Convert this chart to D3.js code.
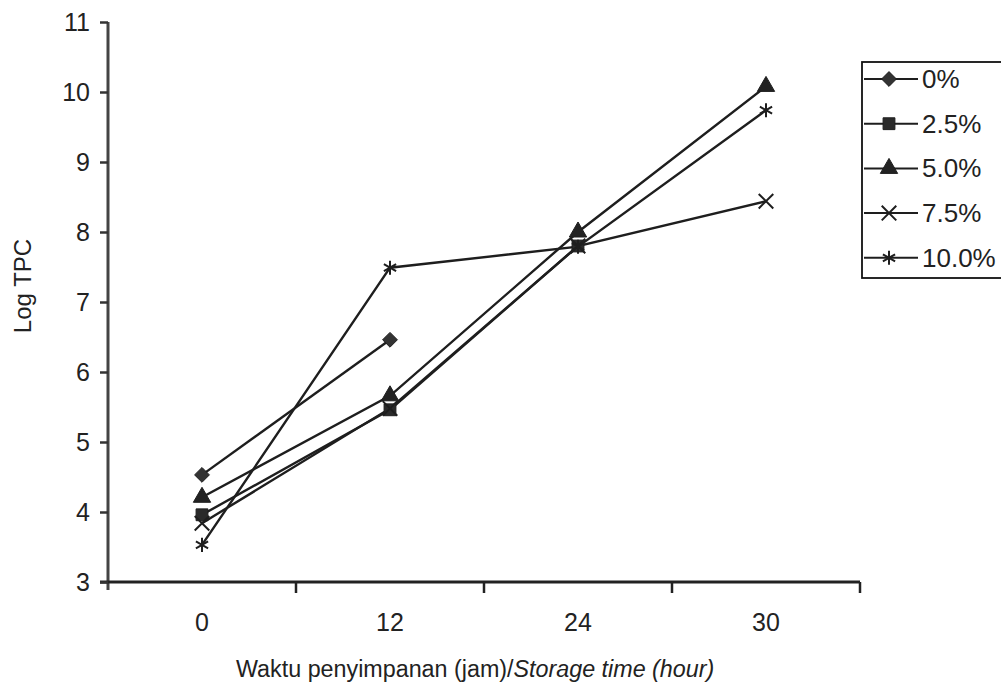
<!DOCTYPE html>
<html><head><meta charset="utf-8">
<script src="https://cdn.jsdelivr.net/npm/d3@7"></script>
<style>
body{margin:0;background:#fff;}
svg{display:block;font-family:"Liberation Sans",Arial,sans-serif;}
</style></head>
<body><svg id="chart" width="1001" height="688"></svg>
<script>
const categories = ["0", "12", "24", "30"];
const seriesNames = ["0%", "2.5%", "5.0%", "7.5%", "10.0%"];
const s0 = [4.53, 6.46, null, null];
const s25 = [3.96, 5.46, 7.80, null];
const s50 = [4.21, 5.66, 8.00, 10.08];
const s75 = [3.84, 5.48, 7.80, 8.44];
const s100 = [3.53, 7.49, 7.79, 9.74];
const yTicks = [3, 4, 5, 6, 7, 8, 9, 10, 11];
const xTitle = ["Waktu penyimpanan (jam)/", "Storage time (hour)"];
const yTitle = "Log TPC";

const seriesValues = [s0, s25, s50, s75, s100];
const markerTypes = ["diamond", "square", "triangle", "times", "asterisk"];

const svg = d3.select("#chart");
const x = d3.scaleBand().domain(categories).range([108, 860]).padding(0);
const y = d3.scaleLinear().domain([3, 11]).range([582, 22]);
const ink = "#1e1e1e";
const txt = "#222";

function marker(g, type, cx, cy) {
  const p = g.append("path").attr("transform", `translate(${cx},${cy})`);
  if (type === "diamond") {
    p.attr("d", d3.symbol(d3.symbolDiamond2 || d3.symbolDiamond, 140)()).attr("fill", "#333").attr("stroke", ink).attr("stroke-width", 1);
  } else if (type === "square") {
    p.attr("d", d3.symbol(d3.symbolSquare, 140)()).attr("fill", "#2a2a2a").attr("stroke", ink).attr("stroke-width", 1);
  } else if (type === "triangle") {
    p.attr("d", d3.symbol(d3.symbolTriangle, 130)()).attr("fill", "#222").attr("stroke", ink).attr("stroke-width", 1);
  } else if (type === "times") {
    p.attr("d", d3.symbol(d3.symbolTimes, 140)()).attr("fill", "none").attr("stroke", ink).attr("stroke-width", 2);
  } else {
    p.attr("d", d3.symbol(d3.symbolAsterisk, 140)()).attr("fill", "none").attr("stroke", ink).attr("stroke-width", 2);
  }
}

// axes lines
const axisG = svg.append("g");
axisG.append("line").attr("x1", 108).attr("x2", 108).attr("y1", y(11)).attr("y2", 590)
  .attr("stroke", "#444").attr("stroke-width", 3);
axisG.append("line").attr("x1", 100).attr("x2", 860).attr("y1", y(3)).attr("y2", y(3))
  .attr("stroke", "#222").attr("stroke-width", 3);

const yAxis = svg.append("g").attr("transform", "translate(108,0)")
  .call(d3.axisLeft(y).tickValues(yTicks).tickSize(8).tickPadding(10));
yAxis.select(".domain").remove();
yAxis.selectAll(".tick line").attr("stroke", "#333").attr("stroke-width", 2.5);
yAxis.selectAll("text").attr("font-size", 25).attr("fill", txt)
  .attr("font-family", "Liberation Sans, Arial, sans-serif");

const xAxis = svg.append("g").attr("transform", `translate(0,${y(3)})`)
  .call(d3.axisBottom(x).tickSize(0).tickPadding(31));
xAxis.select(".domain").remove();
xAxis.selectAll("text").attr("font-size", 25).attr("fill", txt)
  .attr("font-family", "Liberation Sans, Arial, sans-serif");
// boundary ticks between categories
const bounds = categories.map(c => x(c)).concat([x.range()[1]]).slice(1);
svg.append("g").selectAll("line").data(bounds).join("line")
  .attr("x1", d => d).attr("x2", d => d).attr("y1", y(3)).attr("y2", y(3) + 11)
  .attr("stroke", "#222").attr("stroke-width", 2.5);

// x title
svg.append("text").attr("x", 236).attr("y", 677)
  .attr("font-size", 23.3).attr("fill", txt)
  .call(t => { t.append("tspan").text(xTitle[0]); t.append("tspan").attr("font-style", "italic").text(xTitle[1]); });

svg.append("text").attr("transform", "translate(31,286) rotate(-90)").attr("text-anchor", "middle")
  .attr("font-size", 24).attr("fill", txt).text(yTitle);

// lines
const line = d3.line().defined(d => d.v !== null).x(d => x(d.c) + x.bandwidth() / 2).y(d => y(d.v));
const plot = svg.append("g");
seriesValues.forEach((vals) => {
  const pts = categories.map((c, j) => ({ c, v: vals[j] }));
  plot.append("path").attr("d", line(pts)).attr("fill", "none").attr("stroke", ink).attr("stroke-width", 2.4);
});
seriesValues.forEach((vals, i) => {
  categories.forEach((c, j) => {
    if (vals[j] !== null) marker(plot, markerTypes[i], x(c) + x.bandwidth() / 2, y(vals[j]));
  });
});

// legend
const lg = svg.append("g");
lg.append("rect").attr("x", 862).attr("y", 62).attr("width", 150).attr("height", 216)
  .attr("fill", "#fff").attr("stroke", "#111").attr("stroke-width", 1.8);
seriesNames.forEach((name, i) => {
  const ly = 79 + i * 44.7;
  lg.append("line").attr("x1", 864).attr("x2", 918).attr("y1", ly).attr("y2", ly)
    .attr("stroke", ink).attr("stroke-width", 2);
  marker(lg, markerTypes[i], 889, ly);
  lg.append("text").attr("x", 922).attr("y", ly + 9).attr("font-size", 26).attr("fill", txt).text(name);
});
</script></body></html>
